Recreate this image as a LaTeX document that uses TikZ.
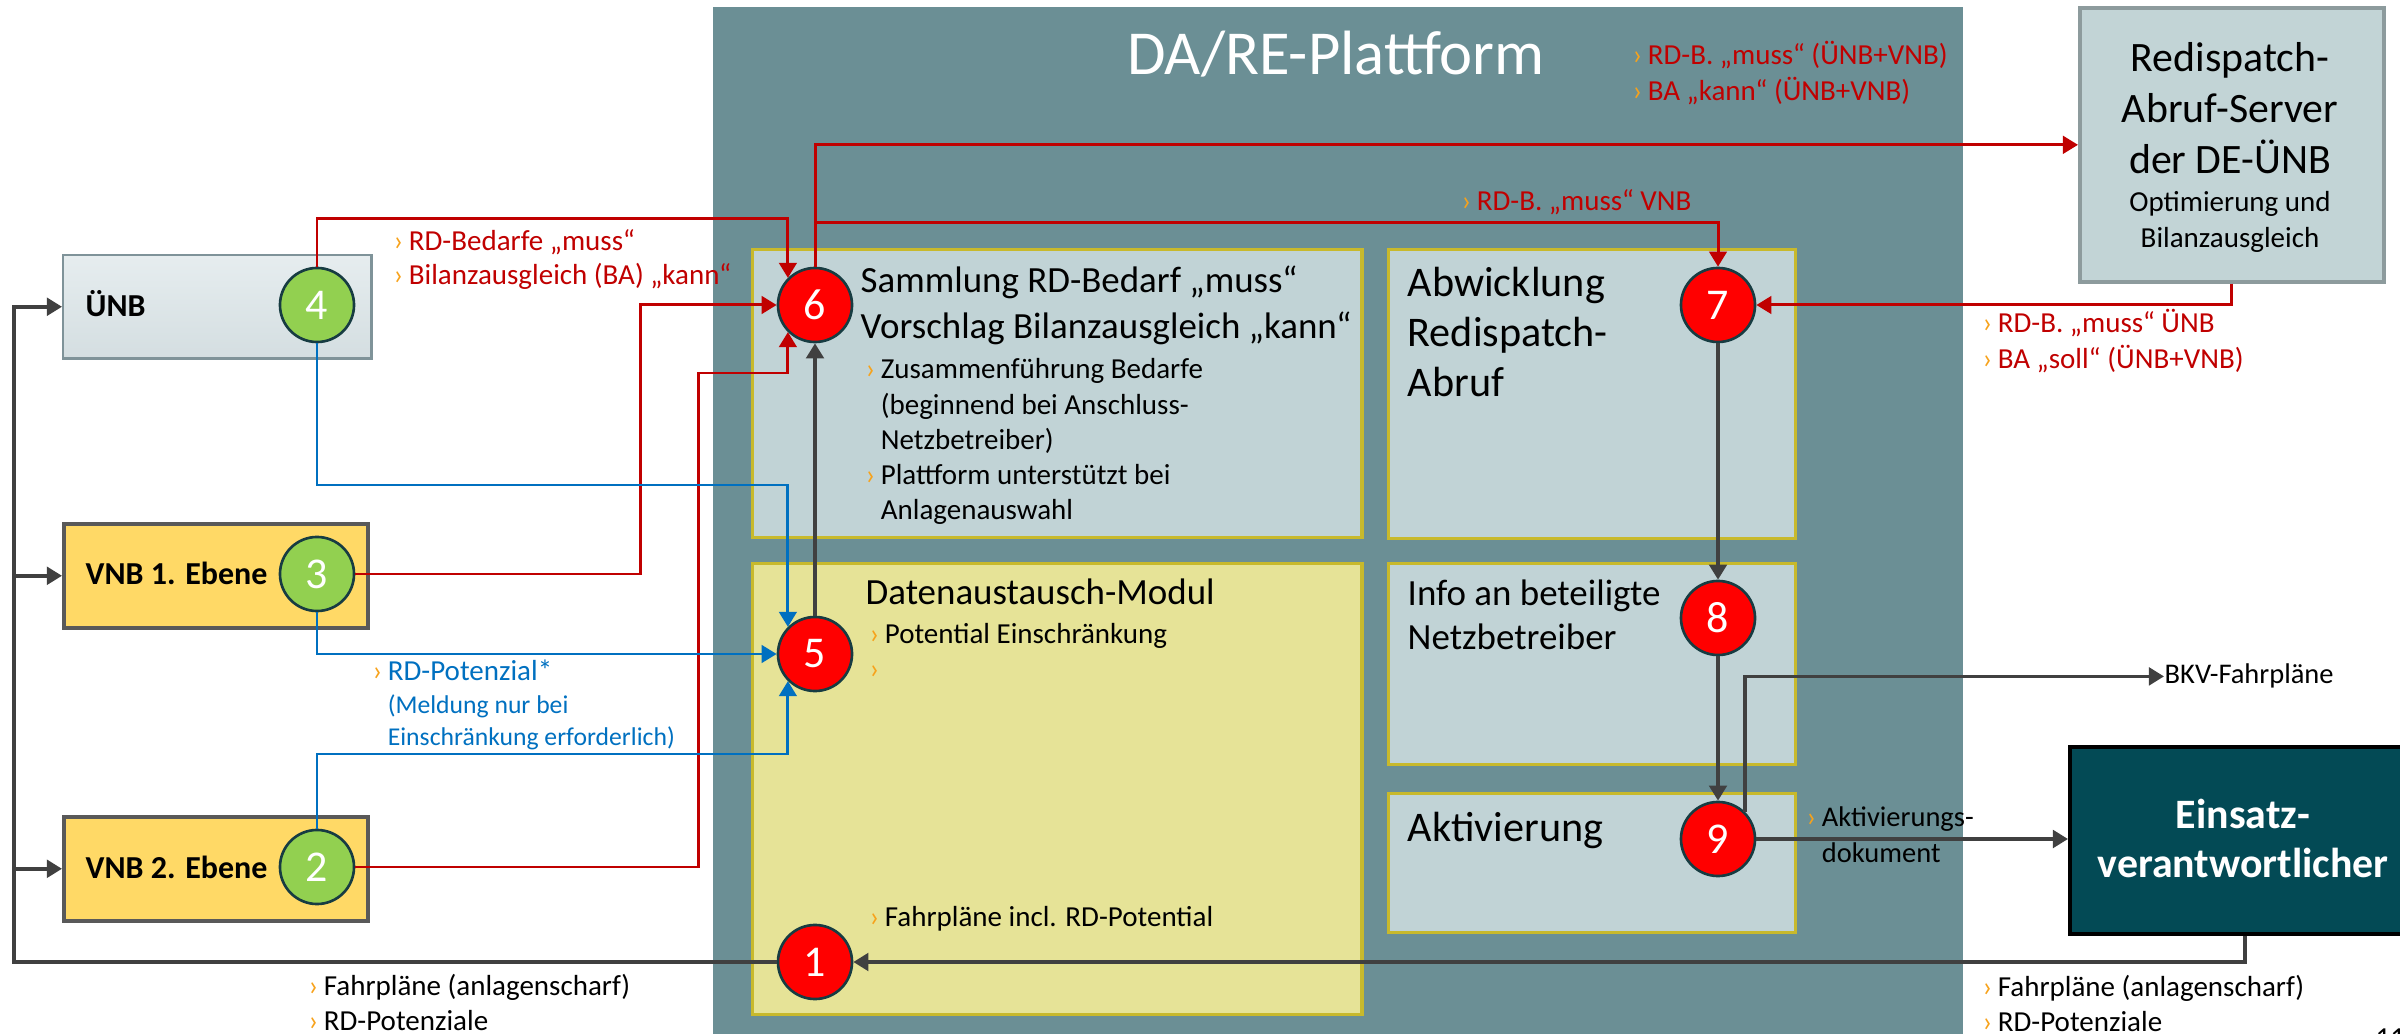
\documentclass[tikz,border=0pt]{standalone}
\usepackage{fontspec}
\setmainfont{Carlito}
\usetikzlibrary{arrows.meta}
\definecolor{plat}{HTML}{6B8F95}
\definecolor{boxbl}{HTML}{C1D3D6}
\definecolor{boxye}{HTML}{E6E397}
\definecolor{boxedge}{HTML}{C8B92C}
\definecolor{redln}{HTML}{C00000}
\definecolor{bluln}{HTML}{0070C0}
\definecolor{grayln}{HTML}{404040}
\definecolor{chev}{HTML}{F7A21B}
\definecolor{redc}{HTML}{FF0000}
\definecolor{circedge}{HTML}{173C42}
\definecolor{greenc}{HTML}{92D050}
\definecolor{vnbf}{HTML}{FFD966}
\definecolor{vnbe}{HTML}{595959}
\definecolor{unbtop}{HTML}{E6EDEF}
\definecolor{unbbot}{HTML}{D4DEE1}
\definecolor{unbe}{HTML}{7F9399}
\definecolor{srvf}{HTML}{C2D4D6}
\definecolor{srve}{HTML}{8D9B9D}
\definecolor{einf}{HTML}{034A55}
\newcommand{\fsz}[2]{\fontsize{#1pt}{#2pt}\selectfont}
\newcommand{\chv}{\makebox[4.3pt][l]{\textcolor{chev}{›}}}
\newcommand{\ind}{\hspace*{4.3pt}}
\newcommand{\mytl}[1]{\begin{tabular}[t]{@{}l@{}}#1\end{tabular}}
\newcommand{\mytc}[1]{\begin{tabular}[t]{@{}c@{}}#1\end{tabular}}
\begin{document}
\begin{tikzpicture}[x=0.01cm,y=-0.01cm,
  panel/.style={draw=boxedge,line width=0.9pt,inner sep=0pt,anchor=north west},
  plainbox/.style={inner sep=0pt,anchor=north west},
  circ/.style={circle,minimum size=0.74cm,inner sep=0pt,draw=circedge,line width=0.75pt,text=white,font=\fsz{12.5}{14}},
  gc/.style={circ,fill=greenc},
  rc/.style={circ,fill=redc},
  tx/.style={inner sep=0pt,anchor=base west},
  rl/.style={draw=redln,line width=0.85pt},
  bl/.style={draw=bluln,line width=0.85pt},
  gl/.style={draw=grayln,line width=1pt},
  arr/.style={-{Triangle[length=4.3pt,width=5pt]}}]
\useasboundingbox (0,0) rectangle (2400,1034);
% platform and boxes
\node[plainbox,fill=plat,minimum width=12.5cm,minimum height=10.4cm] (plat) at (712,6) {};
\node[panel,fill=boxbl,minimum width=6.09cm,minimum height=2.88cm] (samm) at (751,248) {};
\node[panel,fill=boxye,minimum width=6.09cm,minimum height=4.51cm] (daten) at (751,562) {};
\node[panel,fill=boxbl,minimum width=4.07cm,minimum height=2.89cm] (abw) at (1387,248) {};
\node[panel,fill=boxbl,minimum width=4.07cm,minimum height=2.01cm] (info) at (1387,562) {};
\node[panel,fill=boxbl,minimum width=4.07cm,minimum height=1.39cm] (akt) at (1387,792) {};
\node[plainbox,draw=srve,line width=1pt,fill=srvf,minimum width=3.04cm,minimum height=2.74cm] (srv) at (2078,6) {};
\node[plainbox,draw=black,line width=1pt,fill=einf,minimum width=3.5cm,minimum height=1.87cm] (ein) at (2068,745) {};
\node[plainbox,draw=unbe,line width=0.7pt,top color=unbtop,bottom color=unbbot,minimum width=3.08cm,minimum height=1.03cm] (unb) at (62,254) {};
\node[plainbox,draw=vnbe,line width=1pt,fill=vnbf,minimum width=3.04cm,minimum height=1.04cm] (vnb1) at (62,522) {};
\node[plainbox,draw=vnbe,line width=1pt,fill=vnbf,minimum width=3.04cm,minimum height=1.04cm] (vnb2) at (62,815) {};
% circles
\node[gc] (c4) at (317,305) {4};
\node[gc] (c3) at (317,574) {3};
\node[gc] (c2) at (317,867) {2};
\node[rc] (c6) at (815,305) {6};
\node[rc] (c5) at (815,654) {5};
\node[rc] (c1) at (815,962) {1};
\node[rc] (c7) at (1718,305) {7};
\node[rc] (c8) at (1718,618) {8};
\node[rc] (c9) at (1718,839) {9};
% texts
\node[tx,anchor=base,font=\fsz{17.8}{20},text=white] (title) at (1336,75) {DA/RE-Plattform};
\node[tx,font=\fsz{9.1}{11}\bfseries] (tunb) at (85,317) {ÜNB};
\node[tx,font=\fsz{9.1}{11}\bfseries] (tvnb1) at (85,585) {VNB 1. Ebene};
\node[tx,font=\fsz{9.1}{11}\bfseries] (tvnb2) at (85,878) {VNB 2. Ebene};
\node[tx,font=\fsz{8.25}{9.67},text=redln] (l4) at (393,251) {\mytl{\chv RD-Bedarfe „muss“\\\chv Bilanzausgleich (BA) „kann“}};
\node[tx,font=\fsz{8.25}{9.1},text=bluln] (lpot) at (372,681) {\mytl{\chv RD-Potenzial*\\\ind{\fsz{7.3}{9.1}(Meldung nur bei}\\\ind{\fsz{7.3}{9.1}Einschränkung erforderlich)}}};
\node[tx,font=\fsz{8.25}{10},text=redln] (ltr) at (1632,65) {\mytl{\chv RD-B. „muss“ (ÜNB+VNB)\\\chv BA „kann“ (ÜNB+VNB)}};
\node[tx,font=\fsz{8.25}{10},text=redln] (l7) at (1461,211) {\chv RD-B. „muss“ VNB};
\node[tx,font=\fsz{8.25}{10},text=redln] (lsrv) at (1982,333) {\mytl{\chv RD-B. „muss“ ÜNB\\\chv BA „soll“ (ÜNB+VNB)}};
\node[tx,font=\fsz{8.25}{10}] (lbl) at (308,995) {\mytl{\chv Fahrpläne (anlagenscharf)\\\chv RD-Potenziale}};
\node[tx,font=\fsz{8.25}{10}] (lbr) at (1982,996) {\mytl{\chv Fahrpläne (anlagenscharf)\\\chv RD-Potenziale}};
\node[tx,font=\fsz{8.1}{10.2}] (lakt) at (1806,827) {\mytl{\chv Aktivierungs-\\\ind dokument}};
\node[tx,font=\fsz{8.1}{10}] (bkv) at (2164,684) {BKV-Fahrpläne};
\node[tx,anchor=base,font=\fsz{11.9}{14.4}] (tsrv1) at (2230,72) {\mytc{Redispatch-\\Abruf-Server\\der DE-ÜNB}};
\node[tx,anchor=base,font=\fsz{8.25}{10}] (tsrv2) at (2230,212) {\mytc{Optimierung und\\Bilanzausgleich}};
\node[tx,font=\fsz{10.5}{12.8}] (tsam) at (860,293) {\mytl{Sammlung RD-Bedarf „muss“\\Vorschlag Bilanzausgleich „kann“}};
\node[tx,font=\fsz{8.25}{10}] (tsamb) at (865,379) {\mytl{\chv Zusammenführung Bedarfe\\\ind(beginnend bei Anschluss-\\\ind Netzbetreiber)\\\chv Plattform unterstützt bei\\\ind Anlagenauswahl}};
\node[tx,font=\fsz{10.5}{12.8}] (tdat) at (865,605) {Datenaustausch-Modul};
\node[tx,font=\fsz{8.25}{10.1}] (tdatb) at (869,643) {\mytl{\chv Potential Einschränkung\\\chv}};
\node[tx,font=\fsz{8.25}{10}] (tdatc) at (869,926) {\chv Fahrpläne incl. RD-Potential};
\node[tx,font=\fsz{12}{14.2}] (tabw) at (1407,297) {\mytl{Abwicklung\\Redispatch-\\Abruf}};
\node[tx,font=\fsz{10.5}{12.5}] (tinf) at (1407,606) {\mytl{Info an beteiligte\\Netzbetreiber}};
\node[tx,font=\fsz{12}{14.2}] (takt) at (1407,841) {Aktivierung};
\node[tx,anchor=base,font=\fsz{11.9}{14}\bfseries,text=white] (tein) at (2243,828) {\mytc{Einsatz-\\verantwortlicher}};
\node[tx,font=\fsz{8.25}{10}] (pg) at (2375,1047) {11};
% helper coordinates
\coordinate (t4a) at (600,219);
\coordinate (t4b) at (600,485);
\coordinate (t2b) at (600,754);
\coordinate (t3) at (640,305);
\coordinate (t2a) at (698,373);
\coordinate (t7) at (1200,223);
\coordinate (xL) at (14,0);
% connectors
\draw[rl,arr] (c4.north) |- (t4a) -| (c6.north west);
\draw[rl,arr] (c3.east) -| (t3) -- (c6.west);
\draw[rl,arr] (c2.east) -| (t2a) -| (c6.south west);
\draw[bl,arr] (c4.south) |- (t4b) -| (c5.north west);
\draw[bl,arr] (c3.south) |- (c5.west);
\draw[bl,arr] (c2.north) |- (t2b) -| (c5.south west);
\draw[gl,arr] (c5.north) -- (c6.south);
\draw[rl,arr] (c6.north) |- (srv.west);
\draw[rl,arr] (c6.north |- t7) -| (c7.north);
\draw[rl,arr] (srv.south) |- (c7.east);
\draw[gl,arr] (c7.south) -- (c8.north);
\draw[gl,arr] (c8.south) -- (c9.north);
\draw[gl,arr] (c9.north east) |- (bkv.west);
\draw[gl,arr] (c9.east) -- (c9.east -| ein.west);
\draw[gl,arr] (ein.south) |- (c1.east);
\draw[gl,arr] (c1.west) -| (xL |- unb.west) -- (unb.west);
\draw[gl,arr] (xL |- vnb1.west) -- (vnb1.west);
\draw[gl,arr] (xL |- vnb2.west) -- (vnb2.west);
\end{tikzpicture}
\end{document}
